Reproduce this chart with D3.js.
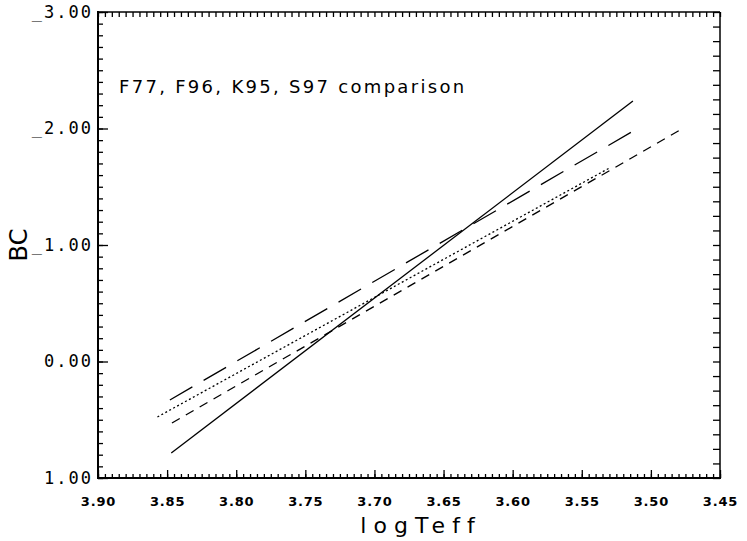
<!DOCTYPE html>
<html>
<head>
<meta charset="utf-8">
<script src="https://cdn.jsdelivr.net/npm/d3@7"></script>
<style>
  body { margin: 0; background: #fff; }
  svg { display: block; background: #fff; }
</style>
</head>
<body>
<svg width="747" height="541"></svg>
<script>
// line end points (logTeff, BC)
const seriesNames = ['F77', 'F96', 'K95', 'S97'];
const f77Teff = [3.847, 3.513];
const f77BC = [0.785, -2.236];
const f96Teff = [3.857, 3.530];
const f96BC = [0.476, -1.661];
const k95Teff = [3.8465, 3.479];
const k95BC = [0.528, -1.987];
const s97Teff = [3.848, 3.5115];
const s97BC = [0.330, -1.987];

const xTicks = [3.90, 3.85, 3.80, 3.75, 3.70, 3.65, 3.60, 3.55, 3.50, 3.45];
const yTicks = [-3, -2, -1, 0, 1];

const svg = d3.select('svg');

svg.append('rect').attr('width', 747).attr('height', 541).attr('fill', '#fff');

// plot box in pixels
const pLeft = 98, pRight = 720, pTop = 12, pBottom = 478;

const x = d3.scaleLinear().domain([3.90, 3.45]).range([pLeft, pRight]);
const y = d3.scaleLinear().domain([1, -3]).range([pBottom, pTop]);

// minor tick positions
const xMinor = d3.range(0, 91).map(i => +(3.90 - i * 0.005).toFixed(3));
const yMinor = d3.range(0, 41).map(i => +(-3 + i * 0.1).toFixed(2));
const yMinorRight = d3.range(0, 33).map(i => -3 + i * 0.125);

// frame
const frame = svg.append('g').attr('stroke', '#000');
frame.append('line').attr('x1', pLeft).attr('x2', pRight).attr('y1', pTop).attr('y2', pTop)
  .attr('stroke-width', 1.5);
frame.append('line').attr('x1', pRight).attr('x2', pRight).attr('y1', pTop).attr('y2', pBottom)
  .attr('stroke-width', 1.5);
frame.append('line').attr('x1', pLeft).attr('x2', pLeft).attr('y1', pTop - 1).attr('y2', pBottom + 1)
  .attr('stroke-width', 2);
frame.append('line').attr('x1', pLeft).attr('x2', pRight + 1).attr('y1', pBottom).attr('y2', pBottom)
  .attr('stroke-width', 2);

// drop the axis baseline and spell out every tick line end
const tidy = g => {
  g.select('.domain').remove();
  g.selectAll('.tick line').each(function () {
    const l = d3.select(this);
    ['x1', 'y1', 'x2', 'y2'].forEach(a => { if (l.attr(a) == null) l.attr(a, 0); });
  })
    .attr('stroke', '#000')
    .attr('stroke-width', 1.3);
  g.selectAll('.tick text').attr('fill', '#000');
};

// left axis
svg.append('g')
  .attr('transform', `translate(${pLeft}, 0)`)
  .call(d3.axisLeft(y).tickValues(yMinor).tickSizeInner(-5).tickSizeOuter(0).tickFormat(''))
  .call(tidy);

svg.append('g')
  .attr('transform', `translate(${pLeft}, 0)`)
  .call(d3.axisLeft(y).tickValues(yTicks).tickSizeInner(-10).tickSizeOuter(0).tickPadding(5)
    .tickFormat(d => (d < 0 ? '_' : '') + Math.abs(d).toFixed(2)))
  .call(tidy)
  .call(g => g.selectAll('.tick text')
    .attr('font-family', 'DejaVu Sans Mono, monospace')
    .attr('font-size', 17)
    .attr('letter-spacing', 2));

// bottom axis: major ticks with bold labels, then minor ticks
svg.append('g')
  .attr('transform', `translate(0, ${pBottom})`)
  .call(d3.axisBottom(x).tickValues(xTicks).tickSizeInner(-8).tickSizeOuter(0).tickPadding(19)
    .tickFormat(d3.format('.2f')))
  .call(tidy)
  .call(g => g.selectAll('.tick text')
    .attr('font-family', 'DejaVu Sans, sans-serif')
    .attr('font-weight', 'bold')
    .attr('font-size', 13)
    .attr('letter-spacing', 0.8));

svg.append('g')
  .attr('transform', `translate(0, ${pBottom})`)
  .call(d3.axisBottom(x).tickValues(xMinor).tickSizeInner(-4).tickSizeOuter(0).tickFormat(''))
  .call(tidy);

// top axis, small ticks only
svg.append('g')
  .attr('transform', `translate(0, ${pTop})`)
  .call(d3.axisTop(x).tickValues(xMinor).tickSizeInner(-5).tickSizeOuter(0).tickFormat(''))
  .call(tidy);

// right axis, own tick spacing
svg.append('g')
  .attr('transform', `translate(${pRight}, 0)`)
  .call(d3.axisRight(y).tickValues(yMinorRight).tickSizeInner(-7).tickSizeOuter(0).tickFormat(''))
  .call(tidy);

// the four relations
const seriesData = [
  { name: seriesNames[0], teff: f77Teff, bc: f77BC, dash: null },
  { name: seriesNames[1], teff: f96Teff, bc: f96BC, dash: '2,2.5' },
  { name: seriesNames[2], teff: k95Teff, bc: k95BC, dash: '9,7' },
  { name: seriesNames[3], teff: s97Teff, bc: s97BC, dash: '26,13' }
];

const line = d3.line()
  .x(d => x(d[0]))
  .y(d => y(d[1]));

svg.selectAll('.series')
  .data(seriesData)
  .enter()
  .append('path')
  .attr('class', 'series')
  .attr('fill', 'none')
  .attr('stroke', '#000')
  .attr('stroke-width', 1.3)
  .attr('d', s => line(d3.zip(s.teff, s.bc)))
  .attr('stroke-dasharray', s => s.dash);

// plot title inside the frame
svg.append('text')
  .attr('x', 119)
  .attr('y', 93)
  .attr('fill', '#000')
  .attr('font-family', 'DejaVu Sans, sans-serif')
  .attr('font-size', 18)
  .attr('letter-spacing', 2.3)
  .text(seriesNames.join(', ') + ' comparison');

// x title
svg.append('text')
  .attr('x', (pLeft + pRight) / 2 + 12)
  .attr('y', 533)
  .attr('text-anchor', 'middle')
  .attr('fill', '#000')
  .attr('font-family', 'DejaVu Sans, sans-serif')
  .attr('font-size', 22)
  .attr('letter-spacing', 7)
  .style('font-variant-ligatures', 'none')
  .text('logTeff');

// y title
svg.append('text')
  .attr('transform', `translate(27, ${(pTop + pBottom) / 2}) rotate(-90)`)
  .attr('text-anchor', 'middle')
  .attr('fill', '#000')
  .attr('font-family', 'DejaVu Sans, sans-serif')
  .attr('font-size', 24)
  .text('BC');
</script>
</body>
</html>
